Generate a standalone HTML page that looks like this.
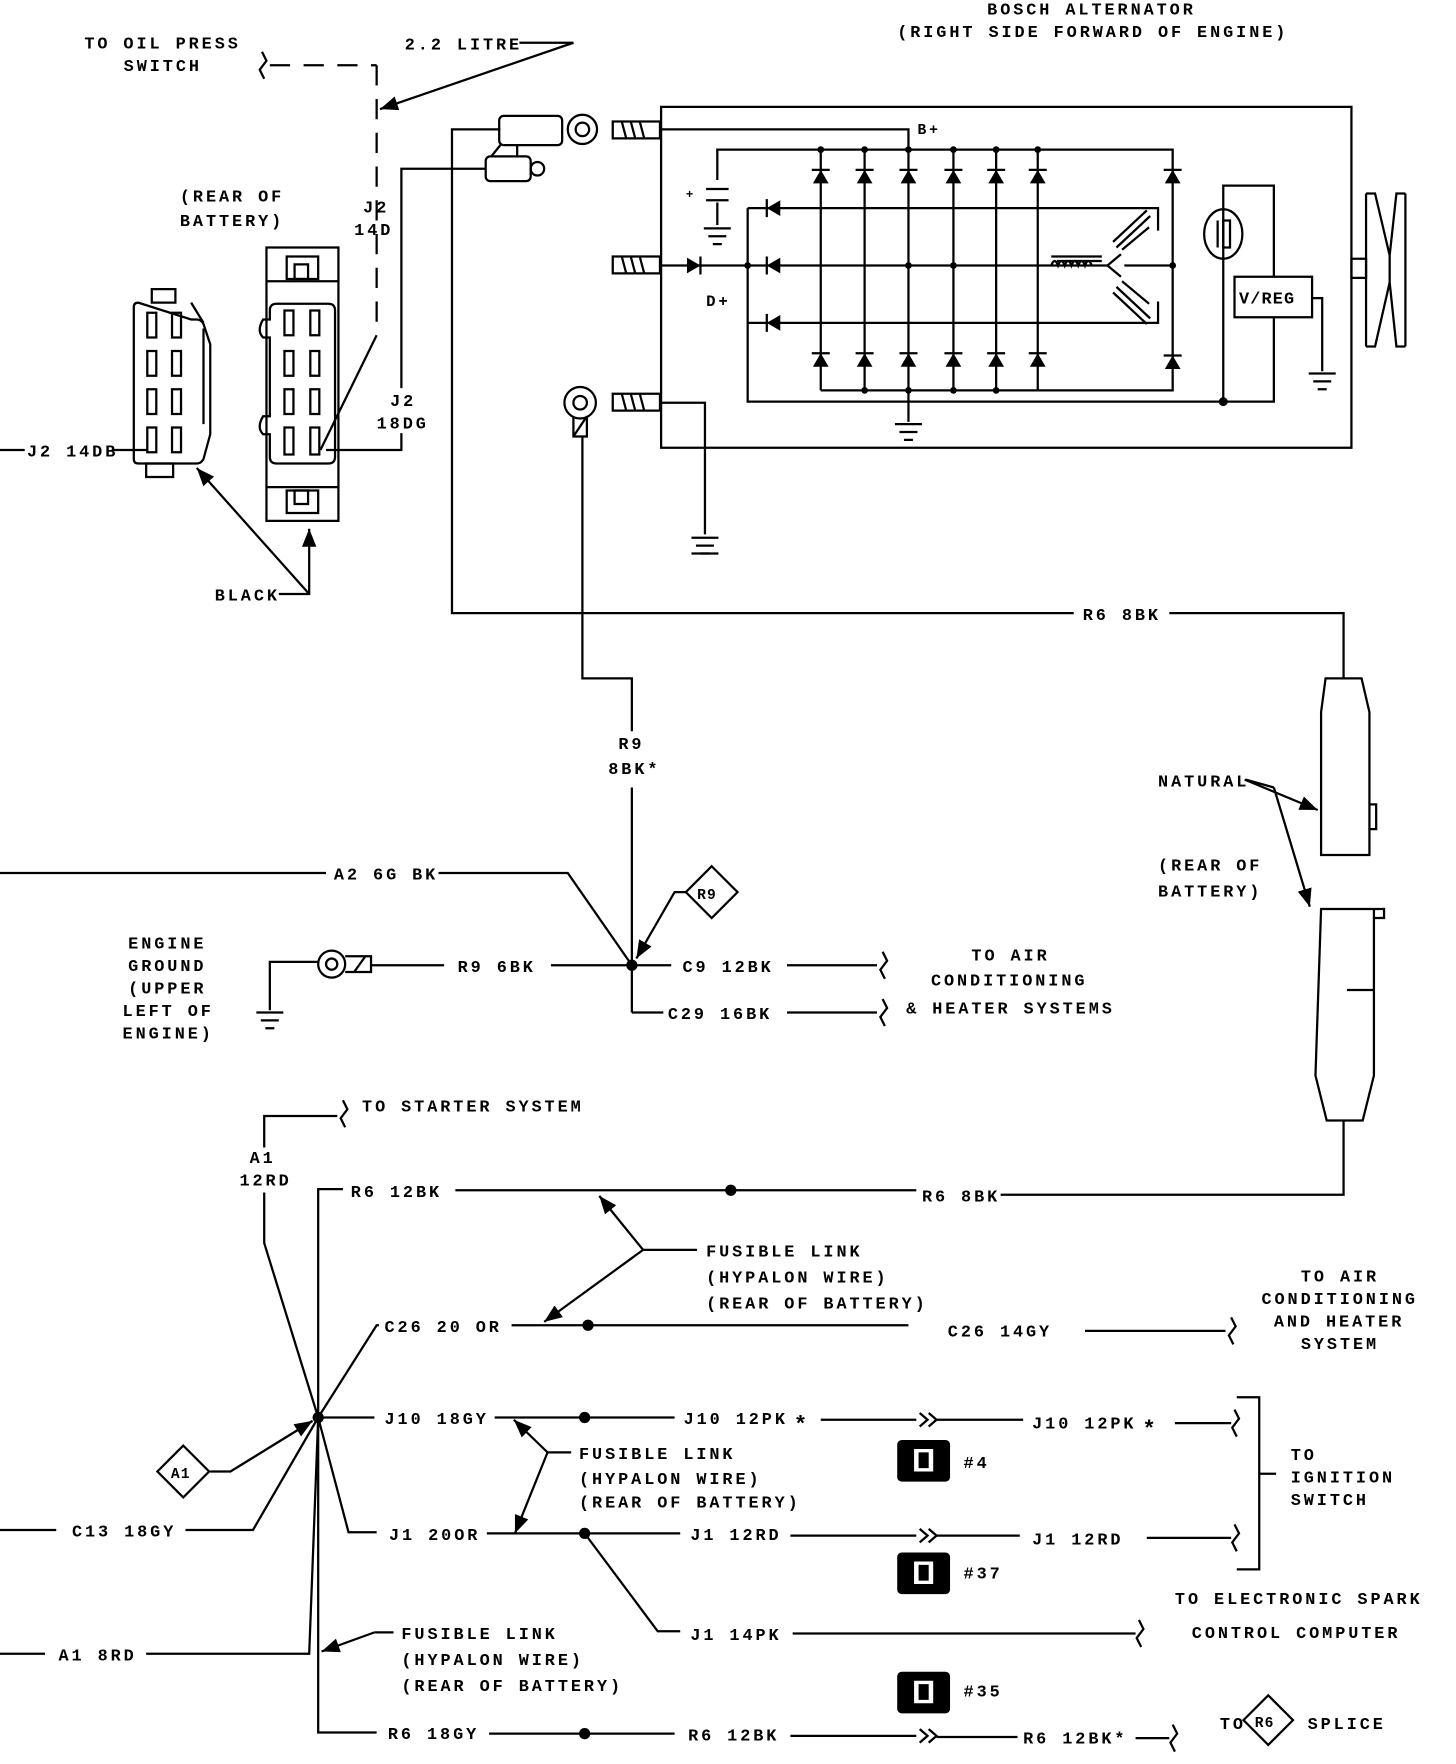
<!DOCTYPE html>
<html><head><meta charset="utf-8"><style>
html,body{margin:0;padding:0;background:#fff;}
svg{display:block;}
text{font-family:"Liberation Mono",monospace;font-size:15px;font-weight:bold;letter-spacing:2.6px;fill:#000;}
</style></head><body>
<svg width="1456" height="1764" viewBox="0 0 1295 1568" preserveAspectRatio="none" xmlns="http://www.w3.org/2000/svg">
<defs>
<g id="du"><polygon points="-7,6 7,6 0,-6" fill="#000"/><line x1="-8" y1="-6" x2="8" y2="-6" stroke="#000" stroke-width="2"/></g>
<g id="dl"><polygon points="6,-7 6,7 -6,0" fill="#000"/><line x1="-6" y1="-8" x2="-6" y2="8" stroke="#000" stroke-width="2"/></g>
<g id="gnd" stroke="#000" stroke-width="2"><line x1="-12" y1="0" x2="12" y2="0"/><line x1="-8" y1="7" x2="8" y2="7"/><line x1="-4" y1="14" x2="4" y2="14"/></g>
<g id="sq" fill="none" stroke="#000" stroke-width="2"><path d="M0,-12 L4,-4 L-2,4 L2,12"/></g>
<g id="icon"><rect x="0" y="0" width="47" height="37" rx="4" fill="#000"/><rect x="15" y="8" width="17" height="20" fill="#fff"/><rect x="19" y="11" width="9" height="14" fill="#000"/></g>
<marker id="ar" viewBox="0 0 10 10" refX="10" refY="5" markerWidth="8" markerHeight="8" orient="auto-start-reverse"><path d="M0,1 L10,5 L0,9 z" fill="#000"/></marker>
</defs>
<g fill="none" stroke="#000" stroke-width="2">
<use href="#sq" x="233" y="58"/>
<line x1="240" y1="58" x2="335" y2="58" stroke-dasharray="18,12"/>
<line x1="335" y1="58" x2="335" y2="298" stroke-dasharray="18,12"/>
<line x1="335" y1="298" x2="285" y2="400"/>
<polyline points="462,38 510,38 338,97" marker-end="url(#ar)"/>
<polyline points="290,400 357,400 357,385"/>
<polyline points="357,345 357,150 432,150"/>
<!-- left connector -->
<rect x="135" y="257" width="21" height="12"/>
<path d="M123,269 q-4,0 -4,4 v135 q0,4 4,4 h52 q4,0 6,-4 l6,-22 v-80 l-6,-18 q-2,-4 -6,-4 h-5 z"/>
<path d="M170,269 l11,18 M181,292 v85"/>
<rect x="130" y="412" width="24" height="12"/>
<rect x="131" y="278" width="8" height="22"/><rect x="153" y="278" width="8" height="22"/><rect x="131" y="312" width="8" height="22"/><rect x="153" y="312" width="8" height="22"/><rect x="131" y="346" width="8" height="22"/><rect x="153" y="346" width="8" height="22"/><rect x="131" y="380" width="8" height="22"/><rect x="153" y="380" width="8" height="22"/>
<line x1="0" y1="400" x2="22" y2="400"/><line x1="100" y1="400" x2="131" y2="400"/>
<!-- right connector -->
<rect x="237" y="220" width="64" height="243"/>
<line x1="237" y1="250" x2="301" y2="250"/><line x1="237" y1="433" x2="301" y2="433"/>
<rect x="255" y="228" width="28" height="20"/><rect x="262" y="235" width="12" height="13"/>
<rect x="255" y="436" width="28" height="20"/><rect x="262" y="436" width="12" height="12"/>
<path d="M246,270 h46 q6,0 6,6 v130 q0,6 -6,6 h-46 q-6,0 -6,-6 v-20 h-6 q-6,-6 0,-16 h6 v-70 h-6 q-6,-6 0,-16 h6 v-8 q0,-6 6,-6 z"/>
<rect x="253" y="276" width="8" height="22"/><rect x="276" y="276" width="8" height="22"/><rect x="253" y="312" width="8" height="22"/><rect x="276" y="312" width="8" height="22"/><rect x="253" y="346" width="8" height="22"/><rect x="276" y="346" width="8" height="22"/><rect x="253" y="380" width="8" height="24"/><rect x="276" y="380" width="8" height="24"/>
<polyline points="248,528 275,528 275,470" marker-end="url(#ar)"/>
<line x1="275" y1="528" x2="175" y2="416" marker-end="url(#ar)"/>
<polyline points="445,115 402,115 402,545 955,545"/>
<polyline points="1040,545 1195,545 1195,603"/>
<rect x="444" y="103" width="56" height="26" rx="4"/>
<rect x="432" y="139" width="40" height="22" rx="4"/>
<path d="M445,129 l-8,10 M460,129 l0,10"/>
<circle cx="518" cy="115" r="13"/><circle cx="518" cy="115" r="6"/>
<circle cx="478" cy="150" r="6"/>
<circle cx="516" cy="358" r="14"/><circle cx="516" cy="358" r="6"/>
<path d="M510,370 v18 h12 v-18 M510,388 l12,-18"/>
<polyline points="518,388 518,603 562,603 562,650"/>
<rect x="545" y="108" width="42" height="15"/><rect x="545" y="228" width="42" height="15"/><rect x="545" y="350" width="42" height="15"/>
<path d="M553,108 l4,15 M561,108 l4,15 M569,108 l4,15 M553,228 l4,15 M561,228 l4,15 M569,228 l4,15 M553,350 l4,15 M561,350 l4,15 M569,350 l4,15"/>
<polyline points="588,358 627,358 627,475"/>
<use href="#gnd" x="627" y="478"/><line x1="615" y1="492" x2="639" y2="492"/>
<rect x="588" y="95" width="614" height="303"/>
<polyline points="588,115 808,115 808,133"/>
<polyline points="638,160 638,133 1043,133 1043,347 923,347"/>
<line x1="638" y1="180" x2="638" y2="200"/><line x1="628" y1="168" x2="648" y2="168"/><line x1="628" y1="178" x2="648" y2="178"/>
<polyline points="730,347 923,347"/>
<line x1="730" y1="133" x2="730" y2="347"/><line x1="769" y1="133" x2="769" y2="347"/><line x1="808" y1="133" x2="808" y2="375"/><line x1="848" y1="133" x2="848" y2="347"/><line x1="886" y1="133" x2="886" y2="347"/><line x1="923" y1="133" x2="923" y2="347"/>
<line x1="665" y1="185" x2="923" y2="185"/><line x1="665" y1="287" x2="923" y2="287"/>
<polyline points="588,236 985,236"/>
<line x1="1000" y1="236" x2="1043" y2="236"/>
<polyline points="923,185 1030,185 1030,205"/><polyline points="923,287 1030,287 1030,268"/>
<polyline points="665,185 665,357 1133,357 1133,282"/>
<polyline points="1088,357 1088,165 1133,165 1133,246"/>
<rect x="1098" y="246" width="69" height="36"/>
<polyline points="1167,265 1176,265 1176,330"/>
<use href="#gnd" x="1176" y="332"/>
<ellipse cx="1088" cy="208" rx="17" ry="22"/>
<line x1="1083" y1="196" x2="1083" y2="220"/><rect x="1088" y="196" width="6" height="24"/>
<path d="M935,228 h45 M940,232 h40"/>
<path d="M935,236 q3,-8 6,0 q3,-8 6,0 q3,-8 6,0 q3,-8 6,0 q3,-8 6,0 q3,-8 6,0"/>
<path d="M985,236 l12,-10 M985,236 l12,10"/>
<path d="M990,215 l30,-28 M993,220 l30,-28 M993,255 l30,28 M990,260 l30,28"/>
<path d="M998,222 l24,-20 M998,250 l24,20"/>
<use href="#gnd" x="638" y="203"/><use href="#gnd" x="808" y="377"/>
<!-- pulley -->
<rect x="1202" y="230" width="13" height="17"/>
<path d="M1215,172 v136 M1250,172 v136 M1215,172 h8 l13,55 v24 l-13,57 h-8 M1250,172 h-8 l-6,55 M1250,308 h-8 l-6,-57"/>
<!-- battery cables -->
<path d="M1185,603 h26 l7,30 v127 h-43 v-127 l4,-30 z"/>
<path d="M1218,715 h6 v22 h-6"/>
<path d="M1175,808 h47 v148 l-10,40 h-32 l-10,-40 z M1222,808 h9 v8 h-9"/>
<line x1="1198" y1="880" x2="1222" y2="880"/>
<polyline points="1195,996 1195,1062 890,1062"/>
<line x1="1107" y1="693" x2="1172" y2="720" marker-end="url(#ar)"/>
<line x1="1133" y1="700" x2="1165" y2="806" marker-end="url(#ar)"/>
<line x1="1108" y1="693" x2="1133" y2="700"/>
<polyline points="0,776 290,776"/><polyline points="390,776 505,776 562,858"/>
<line x1="562" y1="700" x2="562" y2="900"/>
<polyline points="562,900 590,900"/>
<path d="M633,770 l23,23 l-23,23 l-23,-23 z"/>
<polyline points="610,793 600,793 566,852" marker-end="url(#ar)"/>
<polyline points="240,898 240,855 283,855"/>
<use href="#gnd" x="240" y="900"/>
<circle cx="295" cy="857" r="12"/><circle cx="295" cy="857" r="5"/>
<path d="M307,850 h23 v14 h-23 M315,864 l10,-14"/>
<line x1="330" y1="858" x2="395" y2="858"/><line x1="490" y1="858" x2="597" y2="858"/>
<line x1="700" y1="858" x2="780" y2="858"/><use href="#sq" x="785" y="858"/>
<line x1="700" y1="900" x2="780" y2="900"/><use href="#sq" x="785" y="900"/>
<polyline points="235,1020 235,992 300,992"/><use href="#sq" x="305" y="990"/>
<polyline points="235,1060 235,1105 283,1260"/>
<polyline points="283,1260 283,1057 305,1057"/>
<line x1="405" y1="1058" x2="815" y2="1058"/>
<polyline points="283,1260 335,1178 337,1178"/>
<line x1="455" y1="1178" x2="808" y2="1178"/>
<line x1="965" y1="1183" x2="1090" y2="1183"/><use href="#sq" x="1095" y="1183"/>
<polyline points="620,1111 572,1111"/>
<line x1="572" y1="1111" x2="533" y2="1063" marker-end="url(#ar)"/>
<line x1="572" y1="1111" x2="484" y2="1175" marker-end="url(#ar)"/>
<line x1="283" y1="1260" x2="333" y2="1260"/>
<line x1="440" y1="1260" x2="600" y2="1260"/>
<line x1="730" y1="1262" x2="815" y2="1262"/><path d="M818,1256 l7,6 l-7,6 M826,1256 l7,6 l-7,6"/><line x1="833" y1="1262" x2="910" y2="1262"/>
<line x1="1045" y1="1265" x2="1095" y2="1265"/><use href="#sq" x="1098" y="1265"/>
<polyline points="1100,1242 1120,1242 1120,1395 1100,1395"/><line x1="1120" y1="1310" x2="1135" y2="1310"/>
<polyline points="508,1291 487,1291"/>
<line x1="487" y1="1291" x2="457" y2="1262" marker-end="url(#ar)"/>
<line x1="487" y1="1291" x2="458" y2="1363" marker-end="url(#ar)"/>
<polyline points="283,1260 310,1362 335,1362"/>
<line x1="433" y1="1363" x2="605" y2="1363"/>
<line x1="703" y1="1365" x2="815" y2="1365"/><path d="M818,1359 l7,6 l-7,6 M826,1359 l7,6 l-7,6"/><line x1="833" y1="1365" x2="907" y2="1365"/>
<line x1="1020" y1="1367" x2="1095" y2="1367"/><use href="#sq" x="1098" y="1367"/>
<polyline points="520,1363 585,1450 605,1450"/>
<line x1="705" y1="1452" x2="1010" y2="1452"/><use href="#sq" x="1013" y="1452"/>
<path d="M163,1285 l23,23 l-23,23 l-23,-23 z"/>
<polyline points="187,1308 205,1308 278,1263" marker-end="url(#ar)"/>
<line x1="0" y1="1360" x2="50" y2="1360"/><polyline points="165,1360 225,1360 283,1260"/>
<line x1="0" y1="1470" x2="40" y2="1470"/><polyline points="130,1470 275,1470 283,1260"/>
<polyline points="350,1451 333,1451"/><line x1="333" y1="1451" x2="286" y2="1468" marker-end="url(#ar)"/>
<polyline points="283,1260 283,1540 335,1540"/>
<line x1="435" y1="1541" x2="600" y2="1541"/>
<line x1="703" y1="1543" x2="815" y2="1543"/><path d="M818,1537 l7,6 l-7,6 M826,1537 l7,6 l-7,6"/><line x1="833" y1="1544" x2="905" y2="1544"/>
<line x1="1010" y1="1545" x2="1040" y2="1545"/><use href="#sq" x="1043" y="1545"/>
<path d="M1128,1507 l22,22 l-22,22 l-22,-22 z"/>
</g>
<use href="#du" x="730" y="157"/><use href="#du" x="769" y="157"/><use href="#du" x="808" y="157"/><use href="#du" x="848" y="157"/><use href="#du" x="886" y="157"/><use href="#du" x="923" y="157"/><use href="#du" x="1043" y="157"/>
<use href="#du" x="730" y="320"/><use href="#du" x="769" y="320"/><use href="#du" x="808" y="320"/><use href="#du" x="848" y="320"/><use href="#du" x="886" y="320"/><use href="#du" x="923" y="320"/><use href="#du" x="1043" y="322"/>
<use href="#dl" x="688" y="185"/><use href="#dl" x="688" y="236"/><use href="#dl" x="688" y="287"/>
<g transform="translate(617,236) rotate(180)"><use href="#dl"/></g>
<g fill="#000">
<circle cx="730" cy="133" r="3"/><circle cx="769" cy="133" r="3"/><circle cx="808" cy="133" r="3"/><circle cx="848" cy="133" r="3"/><circle cx="886" cy="133" r="3"/><circle cx="923" cy="133" r="3"/>
<circle cx="665" cy="236" r="3"/><circle cx="808" cy="236" r="3"/><circle cx="848" cy="236" r="3"/><circle cx="1043" cy="236" r="3"/>
<circle cx="769" cy="347" r="3"/><circle cx="808" cy="347" r="3"/><circle cx="848" cy="347" r="3"/><circle cx="886" cy="347" r="3"/><circle cx="1088" cy="357" r="4"/>
<circle cx="562" cy="858" r="5"/><circle cx="283" cy="1260" r="5"/>
<circle cx="650" cy="1058" r="5"/><circle cx="523" cy="1178" r="5"/><circle cx="520" cy="1260" r="5"/><circle cx="520" cy="1363" r="5"/><circle cx="520" cy="1541" r="5"/>
</g>
<use href="#icon" x="798" y="1280"/><use href="#icon" x="798" y="1380"/><use href="#icon" x="798" y="1486"/>
<text x="75" y="43">TO OIL PRESS</text><text x="110" y="63">SWITCH</text>
<text x="360" y="44">2.2 LITRE</text>
<text x="878" y="13">BOSCH ALTERNATOR</text>
<text x="798" y="33">(RIGHT SIDE FORWARD OF ENGINE)</text>
<text x="160" y="179">(REAR OF</text><text x="160" y="201">BATTERY)</text>
<text x="323" y="189">J2</text><text x="315" y="209">14D</text>
<text x="347" y="361">J2</text><text x="335" y="381">18DG</text>
<text x="24" y="406">J2 14DB</text>
<text x="191" y="534">BLACK</text>
<text x="816" y="119" style="font-size:13px">B+</text>
<text x="610" y="176" style="font-size:11px">+</text>
<text x="628" y="272" style="font-size:14px">D+</text>
<text x="1102" y="270" style="letter-spacing:1px">V/REG</text>
<text x="963" y="551">R6 8BK</text>
<text x="550" y="666">R9</text><text x="541" y="688">8BK*</text>
<text x="1030" y="699">NATURAL</text>
<text x="1030" y="774">(REAR OF</text><text x="1030" y="797">BATTERY)</text>
<text x="297" y="782">A2 6G BK</text>
<text x="620" y="799" style="font-size:13px;letter-spacing:1px">R9</text>
<text x="114" y="843">ENGINE</text><text x="114" y="863">GROUND</text><text x="114" y="883">(UPPER</text><text x="109" y="903">LEFT OF</text><text x="109" y="923">ENGINE)</text>
<text x="407" y="864">R9 6BK</text>
<text x="607" y="864">C9 12BK</text>
<text x="864" y="854">TO AIR</text><text x="828" y="876">CONDITIONING</text><text x="806" y="901">&amp; HEATER SYSTEMS</text>
<text x="594" y="906">C29 16BK</text>
<text x="322" y="988">TO STARTER SYSTEM</text>
<text x="222" y="1034">A1</text><text x="213" y="1054">12RD</text>
<text x="312" y="1064">R6 12BK</text>
<text x="820" y="1068">R6 8BK</text>
<text x="628" y="1117">FUSIBLE LINK</text><text x="628" y="1140">(HYPALON WIRE)</text><text x="628" y="1163">(REAR OF BATTERY)</text>
<text x="342" y="1184">C26 20 OR</text>
<text x="843" y="1188">C26 14GY</text>
<text x="1157" y="1139">TO AIR</text><text x="1122" y="1159">CONDITIONING</text><text x="1133" y="1179">AND HEATER</text><text x="1157" y="1199">SYSTEM</text>
<text x="342" y="1266">J10 18GY</text>
<text x="608" y="1266">J10 12PK</text><text x="706" y="1272" style="font-size:20px">*</text>
<text x="918" y="1270">J10 12PK</text><text x="1016" y="1276" style="font-size:20px">*</text>
<text x="857" y="1305">#4</text><text x="857" y="1403">#37</text><text x="857" y="1508">#35</text>
<text x="515" y="1297">FUSIBLE LINK</text><text x="515" y="1319">(HYPALON WIRE)</text><text x="515" y="1340">(REAR OF BATTERY)</text>
<text x="1148" y="1298">TO</text><text x="1148" y="1318">IGNITION</text><text x="1148" y="1338">SWITCH</text>
<text x="152" y="1314" style="font-size:13px;letter-spacing:1px">A1</text>
<text x="64" y="1366">C13 18GY</text>
<text x="346" y="1369">J1 20OR</text>
<text x="614" y="1369">J1 12RD</text>
<text x="918" y="1373">J1 12RD</text>
<text x="1045" y="1426">TO ELECTRONIC SPARK</text><text x="1060" y="1456">CONTROL COMPUTER</text>
<text x="614" y="1458">J1 14PK</text>
<text x="357" y="1457">FUSIBLE LINK</text><text x="357" y="1480">(HYPALON WIRE)</text><text x="357" y="1503">(REAR OF BATTERY)</text>
<text x="52" y="1476">A1 8RD</text>
<text x="345" y="1546">R6 18GY</text>
<text x="612" y="1547">R6 12BK</text>
<text x="910" y="1550">R6 12BK*</text>
<text x="1085" y="1537">TO</text>
<text x="1116" y="1535" style="font-size:13px;letter-spacing:1px">R6</text>
<text x="1163" y="1537">SPLICE</text>
</svg>
</body></html>
